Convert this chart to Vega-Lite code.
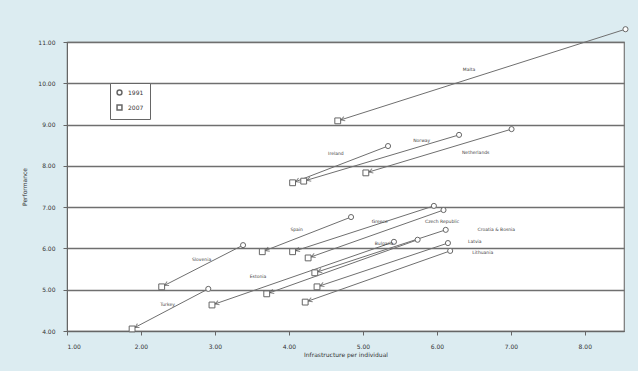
{
  "$schema": "https://vega.github.io/schema/vega-lite/v6.json",
  "width": 557,
  "height": 289,
  "autosize": "none",
  "padding": {"left": 67, "top": 42, "right": 14, "bottom": 40},
  "background": "#dcecf1",
  "data": {
    "values": [
      {"country": "Malta", "x1991": 8.55, "y1991": 11.31, "x2007": 4.66, "y2007": 9.09, "lx": 6.35, "ly": 10.32},
      {"country": "Norway", "x1991": 6.30, "y1991": 8.75, "x2007": 4.20, "y2007": 7.63, "lx": 5.68, "ly": 8.60},
      {"country": "Ireland", "x1991": 5.34, "y1991": 8.48, "x2007": 4.05, "y2007": 7.59, "lx": 4.53, "ly": 8.29},
      {"country": "Netherlands", "x1991": 7.01, "y1991": 8.89, "x2007": 5.04, "y2007": 7.83, "lx": 6.34, "ly": 8.31},
      {"country": "Czech Republic", "x1991": 5.96, "y1991": 7.03, "x2007": 4.05, "y2007": 5.92, "lx": 5.84, "ly": 6.64},
      {"country": "Greece", "x1991": 6.09, "y1991": 6.93, "x2007": 4.26, "y2007": 5.77, "lx": 5.12, "ly": 6.64},
      {"country": "Spain", "x1991": 4.84, "y1991": 6.76, "x2007": 3.64, "y2007": 5.92, "lx": 4.02, "ly": 6.45},
      {"country": "Slovenia", "x1991": 3.38, "y1991": 6.08, "x2007": 2.28, "y2007": 5.07, "lx": 2.69, "ly": 5.72},
      {"country": "Turkey", "x1991": 2.91, "y1991": 5.02, "x2007": 1.88, "y2007": 4.05, "lx": 2.26, "ly": 4.63},
      {"country": "Croatia & Bosnia", "x1991": 6.12, "y1991": 6.45, "x2007": 4.35, "y2007": 5.41, "lx": 6.55, "ly": 6.45},
      {"country": "Latvia", "x1991": 6.15, "y1991": 6.13, "x2007": 4.38, "y2007": 5.07, "lx": 6.42, "ly": 6.16},
      {"country": "Lithuania", "x1991": 6.18, "y1991": 5.94, "x2007": 4.22, "y2007": 4.70, "lx": 6.48, "ly": 5.89},
      {"country": "Estonia", "x1991": 5.74, "y1991": 6.21, "x2007": 3.70, "y2007": 4.90, "lx": 3.47, "ly": 5.31},
      {"country": "Bulgaria", "x1991": 5.42, "y1991": 6.16, "x2007": 2.96, "y2007": 4.63, "lx": 5.16, "ly": 6.11}
    ]
  },
  "transform": [
    {"calculate": "atan2(-(datum.y2007 - datum.y1991) * 41.3, (datum.x2007 - datum.x1991) * 74) * 180 / PI", "as": "ang"}
  ],
  "layer": [
    {
      "mark": {"type": "rule", "color": "#6f6f6f", "strokeWidth": 1},
      "encoding": {
        "x": {"field": "x1991", "type": "quantitative", "scale": {"domain": [1, 8.53], "nice": false, "zero": false},
          "axis": {"values": [1, 2, 3, 4, 5, 6, 7, 8], "format": ".2f", "grid": false, "title": "Infrastructure per individual", "labelFontSize": 6, "labelColor": "#333", "titleFontSize": 6, "titleFontWeight": "normal", "titleColor": "#333", "tickSize": 4, "tickColor": "#666", "labelPadding": 8, "titlePadding": 2, "domainColor": "#666"}},
        "y": {"field": "y1991", "type": "quantitative", "scale": {"domain": [4, 11], "nice": false, "zero": false},
          "axis": {"values": [4, 5, 6, 7, 8, 9, 10, 11], "format": ".2f", "grid": true, "gridColor": "#6f6f6f", "gridWidth": 1.3, "title": "Performance", "labelFontSize": 6, "labelColor": "#333", "titleFontSize": 6, "titleFontWeight": "normal", "titleColor": "#333", "tickSize": 4, "tickColor": "#666", "labelPadding": 8, "titlePadding": 10, "domainColor": "#666"}},
        "x2": {"field": "x2007"},
        "y2": {"field": "y2007"}
      }
    },
    {
      "mark": {"type": "point", "shape": "M-1.8,-0.55L-0.8,0L-1.8,0.55", "filled": false, "stroke": "#555", "strokeWidth": 1, "size": 64},
      "encoding": {
        "x": {"field": "x2007", "type": "quantitative"},
        "y": {"field": "y2007", "type": "quantitative"},
        "angle": {"field": "ang", "type": "quantitative", "scale": null}
      }
    },
    {
      "mark": {"type": "point", "filled": true, "fill": "white", "stroke": "#666", "opacity": 1, "strokeWidth": 1, "size": 26},
      "encoding": {
        "x": {"field": "x1991", "type": "quantitative"},
        "y": {"field": "y1991", "type": "quantitative"},
        "shape": {"datum": "1991", "type": "nominal",
          "scale": {"domain": ["1991", "2007"], "range": ["circle", "square"]},
          "legend": {"title": null, "orient": "none", "legendX": 43, "legendY": 41, "labelFontSize": 6, "labelColor": "#333", "symbolSize": 24, "rowPadding": 4, "padding": 6, "strokeColor": "#666", "fillColor": "white", "labelOffset": 5,
            "encode": {"symbols": {"update": {"stroke": {"value": "#666"}, "fill": {"value": "white"}, "opacity": {"value": 1}, "strokeWidth": {"value": 0.8}, "size": {"value": 24}}}}}}
      }
    },
    {
      "mark": {"type": "point", "filled": true, "fill": "white", "stroke": "#666", "opacity": 1, "strokeWidth": 1, "size": 34},
      "encoding": {
        "x": {"field": "x2007", "type": "quantitative"},
        "y": {"field": "y2007", "type": "quantitative"},
        "shape": {"datum": "2007", "type": "nominal"}
      }
    },
    {
      "mark": {"type": "text", "fontSize": 4.5, "color": "#444", "align": "left"},
      "encoding": {
        "x": {"field": "lx", "type": "quantitative"},
        "y": {"field": "ly", "type": "quantitative"},
        "text": {"field": "country"}
      }
    }
  ],
  "config": {
    "font": "DejaVu Sans",
    "view": {"stroke": "#777", "strokeWidth": 1.2, "fill": "white"}
  }
}
